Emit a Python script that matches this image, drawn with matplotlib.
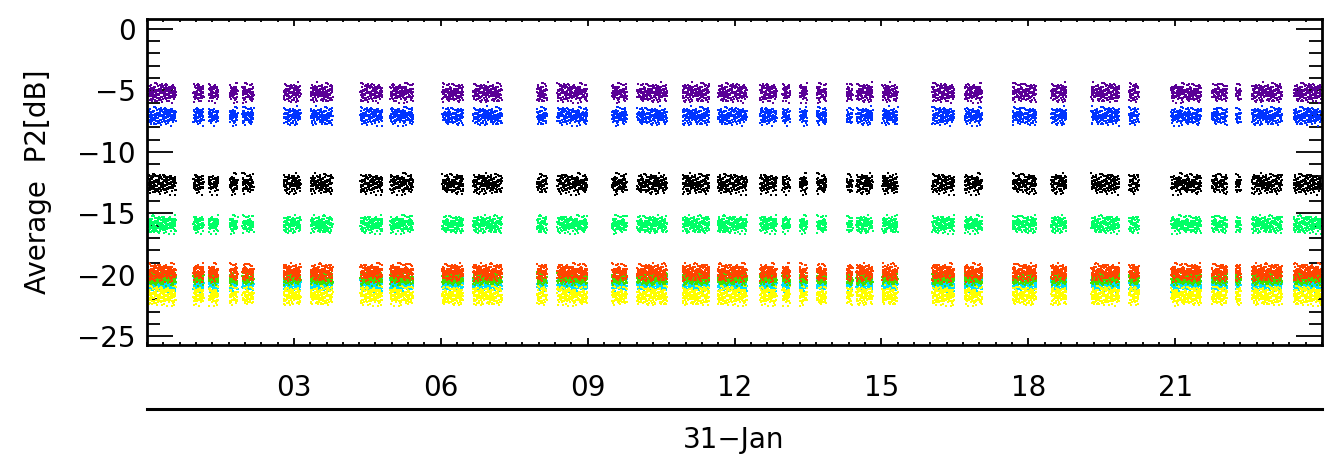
import numpy as np
import matplotlib
matplotlib.use('Agg')
import matplotlib.pyplot as plt
from matplotlib.lines import Line2D
from matplotlib.ticker import MultipleLocator, FixedLocator

# observation windows on 31-Jan (start, end in hours UT)
win_start = [0.02, 0.95, 1.26, 1.69, 1.95, 2.79, 3.34, 4.36, 4.97, 6.03, 6.66,
             7.97, 8.38, 9.50, 10.01, 10.94, 11.66, 12.52, 12.98, 13.33, 13.68,
             14.29, 14.49, 15.02, 16.04, 16.70, 17.68, 18.47, 19.29, 20.06,
             20.92, 21.75, 22.24, 22.57, 23.42]
win_end = [0.59, 1.16, 1.46, 1.85, 2.18, 3.14, 3.79, 4.81, 5.44, 6.46, 7.25,
           8.17, 8.99, 9.80, 10.62, 11.49, 12.25, 12.86, 13.13, 13.48, 13.88,
           14.41, 14.82, 15.33, 16.49, 17.06, 18.16, 18.78, 19.86, 20.26,
           21.53, 22.06, 22.34, 23.18, 23.98]

# channel levels [dB] and their scatter half-width, drawn in this order
names = ['purple', 'blue', 'black', 'green', 'cyan', 'yellow', 'lime', 'red']
levels = [-5.2, -7.1, -12.6, -15.9, -20.8, -21.7, -20.3, -19.8]
spreads = [0.75, 0.7, 0.8, 0.7, 0.5, 0.75, 0.5, 0.7]
colors = ['#5a0096', '#0033ff', '#000000', '#00ff66', '#00ddff', '#ffff00',
          '#44dd00', '#ff4400']

# scatter texture (fractions of the half-width)
tex_a = [0.12, -0.55, 0.83, -0.21, 0.40, -0.92, 0.05, 0.67, -0.38, 0.26, -0.71,
         0.94, -0.08, 0.51, -0.44, 0.18, -0.86, 0.33, -0.15, 0.72, -0.62, 0.01, 0.58]
tex_b = [-0.31, 0.77, -0.68, 0.14, 0.49, -0.97, 0.36, -0.12, 0.88, -0.45, 0.03,
         0.62, -0.79, 0.23, -0.26, 0.95, -0.54]

step = 0.003  # hours between samples

fig = plt.figure(figsize=(13.35, 4.62), dpi=100)
ax = fig.add_axes([0.1101, 0.2532, 0.8802, 0.7057])

ta = np.array(tex_a)
tb = np.array(tex_b)
for k, name in enumerate(names):
    xs = []
    ys = []
    for s, e in zip(win_start, win_end):
        t = np.arange(s, e, step)
        idx = np.arange(len(t)) + 7 * k + int(s * 100)
        off = 0.7 * ta[idx % len(ta)] + 0.5 * tb[(idx * 3) % len(tb)]
        xs.append(t)
        ys.append(levels[k] + spreads[k] * off)
    ax.plot(np.concatenate(xs), np.concatenate(ys), 's', ms=2.0, mew=0,
            color=colors[k], linestyle='none')

ax.set_xlim(0, 24)
ax.set_ylim(-25.7, 0.8)

ax.xaxis.set_major_locator(FixedLocator([3, 6, 9, 12, 15, 18, 21]))
ax.set_xticklabels(['03', '06', '09', '12', '15', '18', '21'])
ax.xaxis.set_minor_locator(MultipleLocator(1 / 3))
ax.yaxis.set_major_locator(FixedLocator([0, -5, -10, -15, -20, -25]))
ax.set_yticklabels(['0', '\u22125', '\u221210', '\u221215', '\u221220', '\u221225'])
ax.yaxis.set_minor_locator(MultipleLocator(1))

ax.tick_params(axis='both', which='both', direction='in', top=True, right=True,
               colors='black', labelsize=20)
ax.tick_params(axis='x', which='major', length=5, width=1.3, pad=21)
ax.tick_params(axis='x', which='minor', length=2.5, width=1.3)
ax.tick_params(axis='y', which='major', length=18.5, width=1.3, pad=8)
ax.tick_params(axis='y', which='minor', length=9.5, width=1.3)
for sp in ax.spines.values():
    sp.set_linewidth(2.0)

ax.set_ylabel('Average  P2[dB]', fontsize=20, labelpad=18)

# date line under the hour axis
fig.add_artist(Line2D([147 / 1335, 1322 / 1335], [1 - 409 / 462, 1 - 409 / 462],
                      color='black', lw=2.2, transform=fig.transFigure))
fig.text(734 / 1335, 1 - 440 / 462, '31\u2212Jan', fontsize=20,
         ha='center', va='center')

plt.savefig('out.png', dpi=100)
